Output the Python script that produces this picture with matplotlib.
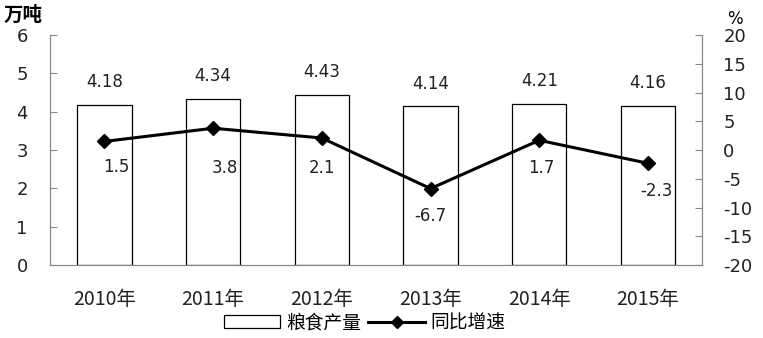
import matplotlib.pyplot as plt
import numpy as np
from matplotlib.lines import Line2D
from matplotlib.patches import Patch

plt.rcParams['font.family'] = ['Noto Sans CJK SC', 'DejaVu Sans']
plt.rcParams['axes.unicode_minus'] = False

# data
years = ['2010年', '2011年', '2012年', '2013年', '2014年', '2015年']
output = [4.18, 4.34, 4.43, 4.14, 4.21, 4.16]
growth = [1.5, 3.8, 2.1, -6.7, 1.7, -2.3]
# label offsets from marker, px (right, down)
growth_label_dx = [12, 12, 0, 0, 2, 8]
growth_label_dy = [26, 40, 30, 27, 28, 28]

fig = plt.figure(figsize=(7.63, 3.38), dpi=100)
ax = fig.add_axes([0.0655, 0.216, 0.855, 0.68])
ax2 = ax.twinx()

x = np.arange(len(years))
ax.bar(x, output, width=0.5, color='white', edgecolor='black', linewidth=0.9, zorder=2)
for xi, v in zip(x, output):
    ax.annotate('%.2f' % v, (xi, v), xytext=(0, 10), textcoords='offset points',
                ha='center', va='bottom', fontsize=12, color='#222222', family='DejaVu Sans')

ax2.plot(x, growth, color='black', linewidth=2.2, marker='D', markersize=7, zorder=3)
for xi, v, dx, dy in zip(x, growth, growth_label_dx, growth_label_dy):
    ax2.annotate('%.1f' % v, (xi, v), xytext=(dx * 0.72, -dy * 0.72), textcoords='offset points',
                 ha='center', va='center', fontsize=12, color='#222222', family='DejaVu Sans')

ax.set_xlim(-0.5, 5.5)
ax.set_ylim(0, 6)
ax2.set_ylim(-20, 20)
ax.set_yticks(range(0, 7))
ax2.set_yticks(range(-20, 21, 5))
ax.set_xticks(x)
ax.set_xticklabels(years, fontsize=14, color='#222222')
ax.tick_params(axis='x', length=0, pad=17)
ax.tick_params(axis='y', direction='in', length=5, color='#888888', labelsize=13, pad=16)
ax2.tick_params(axis='y', direction='in', length=5, color='#888888', labelsize=13, pad=15)
for lab in ax.get_yticklabels() + ax2.get_yticklabels():
    lab.set_family('DejaVu Sans')
    lab.set_color('#222222')

for a in (ax, ax2):
    a.spines['top'].set_visible(False)
    for s in ('left', 'right', 'bottom'):
        a.spines[s].set_color('#888888')

fig.text(0.005, 0.955, '万吨', fontsize=14, fontweight='bold', va='center', ha='left')
fig.text(0.963, 0.945, '%', fontsize=12, va='center', ha='center', family='DejaVu Sans')

handles = [Patch(facecolor='white', edgecolor='black', linewidth=0.9),
           Line2D([0], [0], color='black', linewidth=2.2, marker='D', markersize=6)]
fig.legend(handles, ['粮食产量', '同比增速'], loc='center', bbox_to_anchor=(0.478, 0.045),
           ncol=2, frameon=False, fontsize=13.5, handlelength=3.0, handletextpad=0.3,
           columnspacing=0.4, borderpad=0)

fig.savefig('out.png', dpi=100)
